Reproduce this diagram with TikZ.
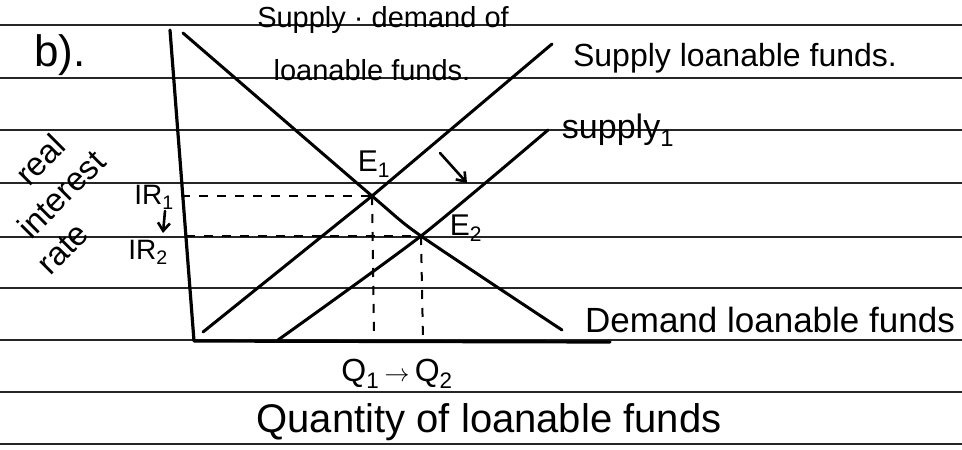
\documentclass[tikz,border=0pt]{standalone}
\usepackage{fontspec}
\setmainfont{Liberation Sans}
\usetikzlibrary{arrows.meta}
\newcommand{\fs}[1]{\fontsize{#1}{#1}\selectfont}
\begin{document}
\begin{tikzpicture}[x=1pt,y=-1pt,
  rule/.style={draw=black!85, line width=1.6pt},
  curve/.style={draw=black, line width=3pt, line cap=round, line join=round},
  axis/.style={draw=black, line width=3.2pt, line cap=round, line join=round},
  guide/.style={draw=black, line width=2pt, dash pattern=on 9pt off 9pt},
  hand/.style={inner sep=0pt, text=black},
  shiftarrow/.style={draw=black, line width=2.6pt, line cap=round, -{Straight Barb[length=8pt,width=12pt]}},
]
\useasboundingbox (0,0) rectangle (962,450);
\fill[white] (0,0) rectangle (962,450);
\foreach \y in {25,78,130,183,237,288,340,392,444}
  \draw[rule] (0,\y) -- (962,\y);

% key points
\coordinate (ytop) at (170,30);
\coordinate (O) at (194,341);
\coordinate (xend) at (610,342);
\coordinate (E1) at (372,196);
\coordinate (E2) at (421,236);
\coordinate (Dtop) at (183,33);
\coordinate (Dbot) at (562,330);
\coordinate (S1a) at (203,332);
\coordinate (S1b) at (552,44);
\coordinate (S2a) at (278,340);
\coordinate (S2b) at (548,130);
\coordinate (IR1a) at (181,196);
\coordinate (IR2a) at (186,236);
\coordinate (Q1) at (374,340);
\coordinate (Q2) at (423,340);
\coordinate (irA) at (165,211);
\coordinate (irB) at (163,233);
\coordinate (shA) at (440,153);
\coordinate (shB) at (467,183);

% axes
\draw[axis] (ytop) -- (O) -- (xend);

% curves
\draw[curve] plot[smooth, tension=0.4] coordinates {(Dtop) (E1) (E2) (Dbot)};
\draw[curve] (S1a) -- (E1) -- (S1b);
\draw[curve] plot[smooth, tension=0.4] coordinates {(S2a) (E2) (S2b)};

% guides
\draw[guide] (IR1a) -- (E1);
\draw[guide] (IR2a) -- (E2);
\draw[guide] (E1) -- (Q1);
\draw[guide] (E2) -- (Q2);

% arrows
\draw[shiftarrow] (shA) -- (shB);
\draw[shiftarrow] (irA) -- (irB);

% labels
\node[hand, font=\fs{44}] (b) at (60,55) {b).};
\node[hand, font=\fs{29}] (t1) at (383,20) {Supply · demand of};
\node[hand, font=\fs{29}] (t2) at (372,70) {loanable funds.};
\node[hand, font=\fs{32}] (sl) at (735,58) {Supply loanable funds.};
\node[hand, font=\fs{34}] (s2l) at (618,130) {supply\textsubscript{1}};
\node[hand, font=\fs{30}] (E1l) at (374,164) {E\textsubscript{1}};
\node[hand, font=\fs{30}] (E2l) at (466,228) {E\textsubscript{2}};
\node[hand, font=\fs{28}] (IR1l) at (154,197) {IR\textsubscript{1}};
\node[hand, font=\fs{28}] (IR2l) at (148,252) {IR\textsubscript{2}};
\node[hand, font=\fontsize{33}{39}\selectfont, rotate=45, align=left] (ylab) at (57,198)
  {\hspace*{48pt}real\\\hspace*{12pt}interest\\rate};
\node[hand, font=\fs{32}] (Ql) at (397,374) {Q\textsubscript{1}\,$\rightarrow$\,Q\textsubscript{2}};
\node[hand, font=\fs{35}] (dl) at (770,320) {Demand loanable funds};
\node[hand, font=\fs{40}] (ql) at (489,422) {Quantity of loanable funds};
\end{tikzpicture}
\end{document}
